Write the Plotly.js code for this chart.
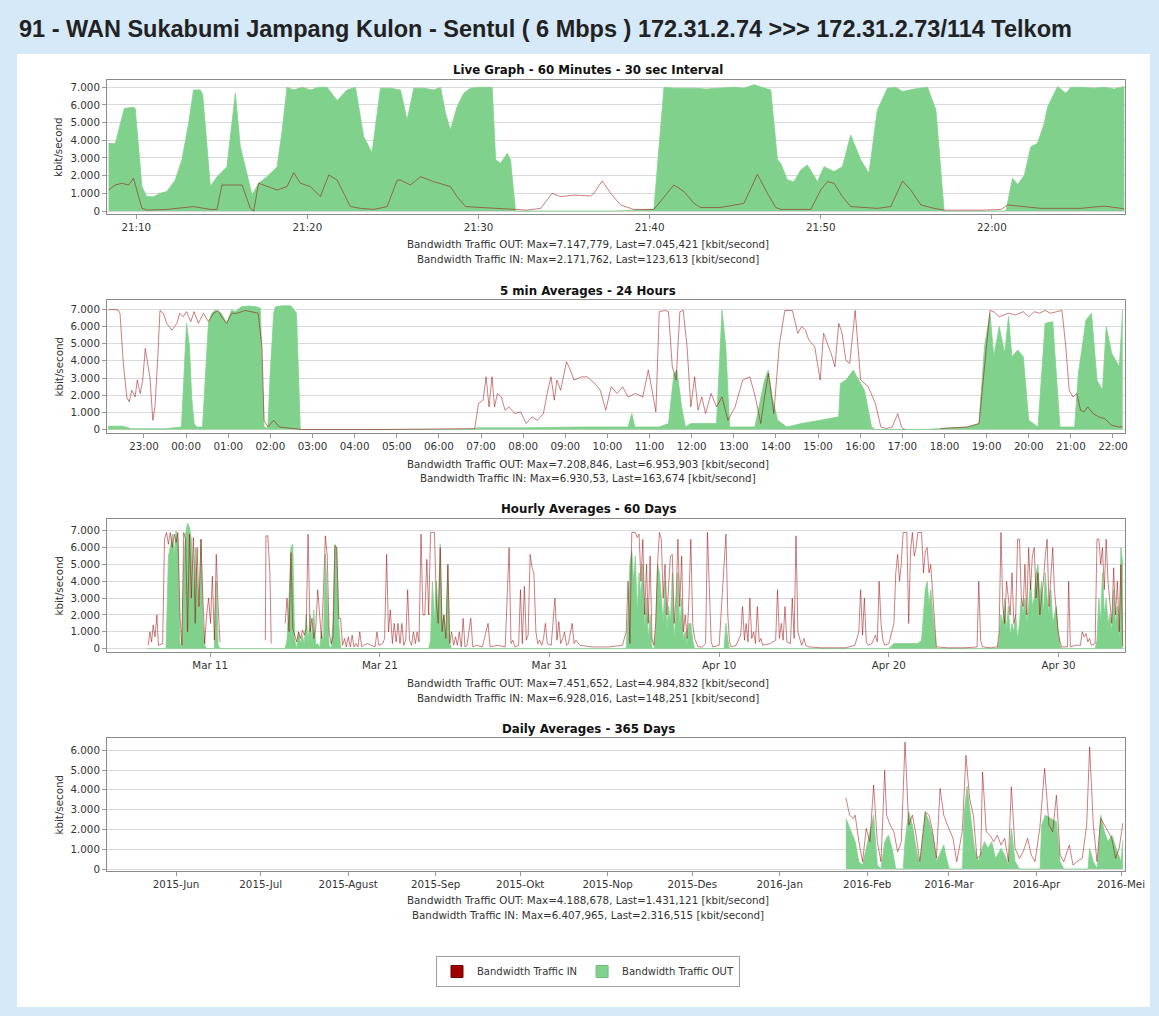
<!DOCTYPE html>
<html><head><meta charset="utf-8">
<script src="https://cdn.plot.ly/plotly-3.0.1.min.js"></script>
<style>html,body{margin:0;padding:0;background:#d5e9f9;}#chart{width:1159px;height:1016px;}</style>
</head><body><div id="chart"></div>
<script>
// ---------- Live Graph (minutes after 21:00) ----------
const liveTickVals = [10,20,30,40,50,60];
const liveTickText = ['21:10','21:20','21:30','21:40','21:50','22:00'];
const liveOutMin = [8.38,8.77,9.30,9.84,9.94,10.33,10.62,11.01,11.40,11.79,12.28,12.67,13.06,13.35,13.74,13.88,14.33,14.72,15.30,15.54,15.79,16.08,16.77,17.15,17.64,18.23,18.52,18.81,19.20,19.69,20.18,20.66,21.15,21.74,22.32,22.81,23.29,23.78,24.27,24.85,25.44,25.83,26.22,26.80,27.39,27.78,28.07,28.36,28.75,29.14,29.53,30.12,30.80,31.00,31.29,31.68,31.87,32.16,34.0,36.0,38.0,40.25,40.84,41.42,42.59,43.30,43.96,44.93,45.51,46.10,46.88,47.08,47.47,47.66,48.05,48.44,48.83,49.22,49.81,50.19,50.78,51.27,51.75,52.34,52.82,53.31,53.90,54.39,54.78,55.46,56.24,56.73,57.21,59.0,60.82,61.21,61.50,61.89,62.28,62.67,63.06,63.26,63.84,64.33,64.62,65.20,65.98,66.57,67.15,67.74];
const liveOut = [3830,3800,5800,5870,5800,1380,810,810,1000,1100,1750,2900,4960,6850,6850,6600,1380,1940,2500,4400,6660,3640,900,1570,1940,2500,4500,7000,6850,7000,6850,7000,7000,6250,6850,7000,4200,3300,6950,6950,6850,5150,6950,6950,6850,7000,5530,4580,5900,6660,6950,7000,7000,2900,2700,3260,2900,0,0,0,0,100,7000,6950,6950,6900,6950,7000,6950,7148,6900,6850,2900,2700,1750,1660,2320,2600,1660,2510,2230,2510,4300,2890,2140,5720,6950,7000,6760,6900,7000,5720,0,0,0,1850,1500,2000,3640,3830,4960,5900,7040,6660,7000,7000,6950,7000,6900,7045];
const liveInMin = [8.38,8.77,9.16,9.55,9.84,10.33,10.62,11.79,13.35,14.33,14.72,15.01,15.69,16.18,16.67,16.86,17.15,17.64,18.23,18.81,19.20,19.59,20.18,20.76,21.25,21.74,22.51,23.10,23.88,24.66,25.25,25.44,26.02,26.61,27.39,28.36,28.75,29.24,30.31,32.16,32.85,33.63,34.31,34.80,35.57,36.55,36.74,37.23,37.72,38.30,39.08,40.25,40.84,41.42,42.01,42.59,42.98,44.15,45.51,46.30,46.88,47.37,47.66,49.42,50.00,50.39,50.78,51.27,51.75,53.31,54.09,54.78,55.26,55.85,56.63,57.21,59.36,60.53,60.92,61.70,62.87,65.20,66.57,67.74];
const liveIn = [1190,1470,1570,1470,1850,150,50,90,250,90,90,1470,1470,1470,150,0,1570,1380,1190,1380,2170,1570,1380,810,2040,1750,250,150,90,250,1750,1750,1470,1940,1660,1380,810,250,200,90,50,150,1000,810,900,850,1000,1700,1000,340,90,90,810,1470,1100,430,200,200,430,2080,1000,200,90,90,1190,1660,1570,810,250,150,250,1700,1190,340,150,50,50,90,340,280,150,150,280,124];

// ---------- 5 min averages (hours after 22:00 of previous day) ----------
const dayTickVals = [1,2,3,4,5,6,7,8,9,10,11,12,13,14,15,16,17,18,19,20,21,22,23,24];
const dayTickText = ['23:00','00:00','01:00','02:00','03:00','04:00','05:00','06:00','07:00','08:00','09:00','10:00','11:00','12:00','13:00','14:00','15:00','16:00','17:00','18:00','19:00','20:00','21:00','22:00'];
const dayOutH = [0.15,0.50,0.70,1.50,1.89,1.95,2.01,2.08,2.13,2.19,2.25,2.39,2.45,2.53,2.61,2.69,2.84,2.96,3.08,3.17,3.31,3.49,3.67,3.76,3.85,3.94,3.99,4.08,4.12,4.30,4.49,4.62,4.71,6.5,8.8,8.9,10.0,11.4,12.49,12.58,12.65,13.23,13.45,13.58,13.65,13.76,13.85,13.98,14.59,14.72,14.81,14.90,15.50,15.73,15.82,15.91,16.04,16.26,16.61,17.05,17.49,17.53,17.66,17.84,17.92,18.10,18.27,18.36,19.5,20.55,20.82,20.95,21.08,21.17,21.30,21.43,21.52,21.60,21.74,21.87,22.00,22.22,22.39,22.57,22.66,22.74,23.09,23.18,23.36,23.49,23.62,23.75,23.84,23.97,24.15,24.23];
const dayOut = [200,200,50,50,150,2880,6180,4820,1900,350,150,150,2880,6180,6770,6950,6770,6180,6950,6860,7150,7190,7150,7060,150,60,3000,6770,7150,7208,7190,6770,0,0,0,100,100,150,150,930,150,150,350,3270,3460,1320,150,350,350,6950,4820,150,150,2880,3460,1900,540,150,350,540,740,2680,2880,3460,3070,2290,150,0,0,150,350,4820,6770,4240,5990,4430,6570,4240,4630,4240,540,150,6180,6280,2880,150,150,3270,6380,6770,2880,2290,5990,4430,3650,6954];
const dayInH = [0.15,0.23,0.39,0.43,0.51,0.59,0.65,0.71,0.79,0.84,0.91,0.97,1.03,1.08,1.14,1.21,1.26,1.32,1.38,1.46,1.54,1.66,1.78,1.85,1.93,2.01,2.11,2.19,2.29,2.41,2.53,2.65,2.76,2.84,2.96,3.08,3.21,3.40,3.58,3.71,3.80,3.85,3.94,4.08,4.21,4.49,4.76,6.50,8.85,8.94,9.05,9.12,9.19,9.26,9.32,9.39,9.48,9.57,9.66,9.80,9.94,10.07,10.21,10.34,10.48,10.57,10.66,10.74,10.80,10.89,11.03,11.12,11.21,11.39,11.52,11.70,11.83,11.96,12.09,12.23,12.36,12.49,12.66,12.84,12.97,13.06,13.15,13.23,13.37,13.45,13.54,13.63,13.72,13.80,13.89,13.98,14.07,14.15,14.24,14.33,14.46,14.59,14.72,14.86,15.03,15.21,15.38,15.51,15.64,15.73,15.82,15.95,16.08,16.21,16.39,16.52,16.61,16.70,16.78,16.92,17.05,17.13,17.31,17.40,17.49,17.57,17.66,17.75,17.88,18.01,18.19,18.36,18.49,18.62,18.76,18.89,18.98,19.06,19.50,19.90,20.55,20.82,20.95,21.08,21.17,21.30,21.52,21.69,21.87,22.00,22.13,22.26,22.39,22.52,22.66,22.79,22.88,22.96,23.05,23.14,23.23,23.31,23.40,23.53,23.66,23.80,23.97,24.15,24.23];
const dayIn = [6950,7000,6950,6770,3850,1900,1610,2290,1900,2880,2100,2880,4720,3850,3070,540,1320,3850,6930,6770,6180,5790,6180,6770,6570,6860,6280,6860,6180,6770,6280,6770,6930,6570,6180,6770,6770,6930,6860,6770,4820,540,150,540,150,60,0,0,60,1520,1710,3070,1320,3070,1320,2100,1900,1130,1320,930,1030,350,740,540,930,2100,3070,1710,2880,2290,3950,3460,2880,3070,3070,2680,2290,1130,2490,2100,2490,1900,2100,1900,3460,2290,1030,6860,6930,6860,3650,2880,6860,6930,4820,1320,3070,1130,1900,930,2100,1320,1900,540,1320,2880,3070,1900,350,1900,3270,930,4920,6930,6930,5600,5990,5790,5210,4820,2880,5600,4430,3650,6180,5600,4040,3850,6930,2880,2490,1520,150,60,150,930,150,0,null,60,150,350,3850,6930,6860,6570,6770,6670,6860,6570,6860,6770,6930,6770,6860,6930,4820,2290,1900,2100,1130,1030,1320,930,740,640,250,150,164];

// ---------- Hourly averages (days after 1 Mar 2016) ----------
const hourTickVals = [10,20,30,40,50,60];
const hourTickText = ['Mar 11','Mar 21','Mar 31','Apr 10','Apr 20','Apr 30'];
const hourInD = [6.35,6.45,6.55,6.64,6.75,6.86,6.95,7.20,7.31,7.43,7.54,7.65,7.77,7.88,7.99,8.10,8.22,8.33,8.44,8.55,8.67,8.78,8.89,9.01,9.12,9.23,9.34,9.46,9.57,9.68,9.79,9.91,10.02,10.13,10.25,10.36,10.47,10.58,11.50,13.25,13.29,13.40,13.52,13.60,14.00,14.42,14.53,14.65,14.76,14.87,14.98,15.10,15.21,15.33,15.44,15.55,15.66,15.77,15.89,16.00,16.11,16.22,16.34,16.45,16.56,16.68,16.79,16.90,17.01,17.13,17.24,17.35,17.46,17.58,17.69,17.80,17.92,18.03,18.14,18.26,18.37,18.48,18.59,18.71,18.82,18.93,19.04,19.27,19.50,19.72,19.83,19.94,20.17,20.28,20.40,20.51,20.62,20.74,20.85,20.96,21.07,21.19,21.30,21.41,21.53,21.64,21.75,21.87,21.98,22.10,22.20,22.31,22.43,22.54,22.65,22.77,22.88,22.99,23.10,23.22,23.33,23.44,23.56,23.67,23.78,23.89,24.01,24.12,24.23,24.35,24.46,24.57,24.68,24.80,24.91,25.02,25.14,25.36,25.48,25.70,26.04,26.38,26.50,26.94,27.39,27.62,27.73,27.84,27.96,28.18,28.29,28.40,28.52,28.63,28.74,28.86,28.97,29.08,29.20,29.31,29.42,29.54,29.65,29.76,29.87,30.10,30.32,30.44,30.55,30.66,30.78,30.89,31.00,31.11,31.34,31.45,31.56,31.80,32.50,33.50,34.30,34.52,34.63,34.74,34.85,34.96,35.06,35.17,35.28,35.39,35.50,35.61,35.72,35.82,35.93,36.04,36.15,36.26,36.37,36.48,36.59,36.70,36.81,36.92,37.02,37.13,37.24,37.35,37.46,37.57,37.68,37.79,37.89,38.00,38.11,38.22,38.33,38.44,38.55,38.66,38.76,39.00,39.20,39.31,39.42,39.53,39.63,40.00,40.40,40.51,40.61,40.72,41.00,41.27,41.38,41.49,41.59,41.70,41.81,41.92,42.03,42.14,42.25,42.36,42.46,42.57,43.00,43.33,43.44,43.55,43.66,43.77,43.88,43.99,44.20,44.31,44.42,44.53,44.64,44.75,44.86,45.00,45.10,45.29,46.00,47.00,47.47,48.00,48.23,48.34,48.45,48.56,48.67,48.78,49.00,49.21,49.32,49.43,49.54,49.65,49.76,50.00,50.30,50.41,50.52,50.63,50.73,50.84,50.95,51.06,51.17,51.28,51.39,51.50,51.61,51.71,51.82,51.93,52.04,52.15,52.26,52.37,52.47,52.58,52.69,52.80,53.50,54.50,55.20,55.30,55.41,55.52,56.00,56.40,56.50,56.61,56.72,56.83,56.94,57.04,57.15,57.26,57.37,57.48,57.59,57.70,57.81,57.92,58.02,58.13,58.24,58.35,58.46,58.57,58.68,58.79,58.90,59.00,59.11,59.22,59.33,59.44,59.55,59.66,59.76,59.87,59.98,60.09,60.20,60.53,60.60,60.70,61.00,61.29,61.40,61.51,61.62,61.73,61.83,61.94,62.16,62.27,62.38,62.49,62.59,62.70,62.81,62.92,63.03,63.14,63.25,63.36,63.47,63.58,63.68,63.79];
const hourIn = [200,1000,400,1400,700,2000,200,300,6500,6900,6200,6900,6000,6800,6300,6900,2000,200,6900,6500,1000,6800,3000,6600,1500,6000,2500,6500,3000,300,2000,3000,1500,4300,500,5600,2500,400,null,500,6700,6700,4500,300,null,1500,3000,1000,5700,1200,800,400,1000,600,1100,800,1200,6800,1000,1800,600,1200,3500,2000,600,3500,6700,5500,1000,300,700,6100,6000,1800,1800,200,600,100,700,100,800,100,300,100,1000,100,200,300,200,100,1000,200,300,600,5600,1000,2300,300,1500,400,1500,300,1500,200,500,3500,500,200,1000,300,1000,400,6800,2000,2000,5300,2000,6900,6900,6900,2800,1500,6000,1000,2000,600,5000,300,1000,200,700,200,1000,100,1800,100,200,1800,100,200,100,1500,100,200,100,6000,300,500,100,200,3500,300,3700,500,800,5600,4800,4500,1000,300,500,200,600,1500,300,200,3000,500,1600,300,600,1000,200,300,1500,300,500,200,100,100,200,1000,4000,300,6900,6900,6900,6600,6800,4000,6500,2000,5000,1500,5500,600,200,1500,5000,6900,6500,3000,5000,2000,4000,5500,5600,1500,3000,6500,2500,5500,1000,2000,600,3000,6500,1500,600,300,100,100,300,6900,3000,400,100,200,6800,2000,400,100,200,800,2500,500,1500,400,3000,600,1000,300,2500,400,600,200,300,500,3500,600,1500,500,2500,400,300,3000,600,6700,1000,500,200,600,200,100,50,50,50,200,1000,3500,800,3000,400,200,300,800,400,4000,1500,500,200,300,1500,4500,5600,4000,5000,6900,6900,6900,1500,5800,6900,5500,6000,6900,6900,6900,4500,5800,6000,4500,5000,3500,1500,100,50,50,100,4000,500,100,50,100,1000,6900,2500,1500,4000,3000,2000,4500,1500,2000,6500,6500,3000,2500,5000,2000,6000,3500,5500,6000,3000,4500,2000,3000,4000,5500,6500,2500,4500,6000,3500,2000,1000,400,100,100,4000,100,200,200,1000,700,900,400,600,200,300,6500,6500,5000,6000,3500,6500,4000,2500,1500,4800,2000,4000,1000,5000,148];
const hourOutD = [6.30,7.40,7.43,7.54,7.65,7.77,7.88,7.99,8.10,8.22,8.33,8.44,8.55,8.67,8.78,8.89,9.01,9.12,9.23,9.34,9.46,9.57,9.68,9.79,10.25,10.36,10.47,10.58,14.42,14.53,14.65,14.76,14.87,14.98,15.10,15.21,15.33,15.44,15.55,15.66,15.77,15.89,16.00,16.11,16.22,16.34,16.45,16.56,16.68,16.79,16.90,17.01,17.13,17.24,17.35,17.46,17.58,17.69,22.88,22.99,23.10,23.22,23.33,23.44,23.56,23.67,23.78,23.89,24.01,24.12,24.23,34.52,34.63,34.74,34.85,34.96,35.06,35.17,35.28,35.39,35.50,35.61,35.72,35.82,35.93,36.04,36.15,36.26,36.37,36.48,36.59,36.70,36.81,36.92,37.02,37.13,37.24,37.35,37.46,37.57,37.68,37.79,37.89,38.00,38.11,38.22,38.33,38.44,38.55,40.29,40.40,40.51,40.61,50.00,50.19,50.30,50.84,51.28,51.71,51.93,52.04,52.15,52.26,52.37,52.47,52.58,52.69,52.80,56.40,56.50,56.61,56.72,56.83,56.94,57.04,57.15,57.26,57.37,57.48,57.59,57.70,57.81,57.92,58.02,58.13,58.24,58.35,58.46,58.57,58.68,58.79,58.90,59.00,59.11,59.22,59.33,59.44,59.55,59.66,59.76,59.87,59.98,60.09,60.20,62.16,62.27,62.38,62.49,62.59,62.70,62.81,62.92,63.03,63.14,63.25,63.36,63.47,63.58,63.68,63.79];
const hourOut = [0,0,1000,5500,6000,6800,5500,7000,6500,300,0,5000,6800,7451,7200,6500,3000,6000,4000,2000,6500,1500,200,0,0,4000,200,0,0,500,3000,6000,6200,500,0,1000,300,800,200,2000,300,2000,300,2300,200,300,0,1000,300,5600,3000,200,0,1500,6200,6000,1500,0,0,500,4000,1500,4000,2000,6200,1500,2000,500,5000,300,0,0,2000,5000,5800,4000,5500,2000,4500,3000,5000,1000,3000,500,2000,0,0,1000,5000,4500,3000,1500,4000,1000,2500,1500,4500,500,2000,4500,1000,3000,500,1000,200,1500,1500,500,0,0,1500,500,0,0,200,300,300,300,300,500,2000,3500,4000,2500,3500,2000,1000,0,0,500,2000,1500,3000,1000,2500,800,1500,1000,2000,500,1500,3000,2000,3000,1500,2500,4000,2500,3000,4500,5000,3000,4000,2000,4500,3000,2000,3500,1500,2000,2500,1000,200,0,0,500,3000,1500,4500,2000,3000,1500,2000,1000,3500,1500,2500,500,6000,4985];

// ---------- Daily averages (days after 1 Jun 2015) ----------
const yearTickVals = [0,30,61,92,122,153,183,214,245,274,305,335];
const yearTickText = ['2015-Jun','2015-Jul','2015-Agust','2015-Sep','2015-Okt','2015-Nop','2015-Des','2016-Jan','2016-Feb','2016-Mar','2016-Apr','2016-Mei'];
const yearInD = [237.46,238.77,240.08,240.74,242.05,243.36,244.66,245.97,247.28,248.59,249.90,251.21,251.86,253.17,254.48,255.79,257.10,258.41,259.72,261.03,262.34,263.65,265.61,266.92,268.23,269.54,270.85,272.15,273.46,275.43,276.74,278.70,280.01,281.32,282.63,283.93,285.24,285.90,287.21,288.52,289.83,291.14,292.45,293.75,295.06,296.11,297.42,298.99,300.30,301.87,303.18,304.49,306.19,307.90,309.46,310.77,312.08,313.39,314.70,316.66,317.97,319.28,321.24,322.81,323.86,325.17,326.48,327.79,329.10,330.41,331.72,333.02,334.33,335.64];
const yearIn = [3600,2720,2550,2720,1380,370,2050,1380,4240,1380,370,4990,2720,2220,1880,870,1380,6408,2220,2720,1710,370,2890,2720,1880,540,4070,2720,2220,1550,370,1880,5750,3560,2720,540,710,4910,1880,1710,1380,1710,1210,1550,370,4150,1040,540,870,1550,710,370,2050,5080,2220,1880,3730,710,370,1210,200,370,540,2220,6170,2220,370,2550,2220,1880,1550,540,1040,2317];
const yearOutD = [237.46,239.43,240.74,242.05,243.36,244.66,245.97,247.28,247.94,248.59,249.90,251.21,252.52,253.83,255.14,257.80,258.41,259.72,261.03,262.34,263.65,265.61,266.92,268.23,269.54,272.15,272.81,274.12,278.80,279.36,280.40,281.71,283.02,284.33,286.55,287.86,289.17,290.48,292.45,293.75,295.06,296.11,297.42,298.99,306.30,306.85,308.16,310.12,312.08,313.39,314.70,323.30,323.86,325.17,326.60,327.79,329.10,330.41,331.72,333.68,334.99,335.64];
const yearOut = [2550,1880,1380,370,200,1040,1880,2720,1380,200,0,1380,1710,1040,0,0,1380,2890,2220,1040,200,2890,2390,1710,370,1210,710,0,0,2720,4188,2720,1040,370,1380,1040,1380,540,1040,710,200,2050,370,0,0,2220,2720,2550,2390,370,0,0,1040,370,0,2720,1880,1380,1710,870,370,1431];

// ---------- texts ----------
const pageTitle = '91 - WAN Sukabumi Jampang Kulon - Sentul ( 6 Mbps ) 172.31.2.74 &gt;&gt;&gt; 172.31.2.73/114 Telkom';
const chartTitles = ['Live Graph - 60 Minutes - 30 sec Interval','5 min Averages - 24 Hours','Hourly Averages - 60 Days','Daily Averages - 365 Days'];
const footOut = ['Bandwidth Traffic OUT: Max=7.147,779, Last=7.045,421 [kbit/second]','Bandwidth Traffic OUT: Max=7.208,846, Last=6.953,903 [kbit/second]','Bandwidth Traffic OUT: Max=7.451,652, Last=4.984,832 [kbit/second]','Bandwidth Traffic OUT: Max=4.188,678, Last=1.431,121 [kbit/second]'];
const footIn = ['Bandwidth Traffic IN: Max=2.171,762, Last=123,613 [kbit/second]','Bandwidth Traffic IN: Max=6.930,53, Last=163,674 [kbit/second]','Bandwidth Traffic IN: Max=6.928,016, Last=148,251 [kbit/second]','Bandwidth Traffic IN: Max=6.407,965, Last=2.316,515 [kbit/second]'];
const seriesNames = ['Bandwidth Traffic IN','Bandwidth Traffic OUT'];

// ---------- layout geometry ----------
const W=1159, H=1016;
const px = v => v/W, py = v => 1 - v/H;
const FONT = 'DejaVu Sans, Verdana, sans-serif';
const GREEN = '#80d18c', INLINE = 'rgba(155,0,0,0.5)';
const plotTop = [80,300,519,738], plotBot = [214,433,652,871];
const xRanges = [[8.29,67.78],[0.122,24.285],[3.92,63.92],[-24.5,336.4]];
const yRanges = [[-170,7413],[-200,7540],[-200,7700],[-100,6620]];
const tickV = [liveTickVals, dayTickVals, hourTickVals, yearTickVals];
const tickT = [liveTickText, dayTickText, hourTickText, yearTickText];
const titleY = [70.5,290.5,509,728.5], foot1Y = [244,464,683,900];

const series = [
  [liveOutMin, liveOut, liveInMin, liveIn],
  [dayOutH, dayOut, dayInH, dayIn],
  [hourOutD, hourOut, hourInD, hourIn],
  [yearOutD, yearOut, yearInD, yearIn]
];

const data = [];
const layout = {
  width:W, height:H, margin:{l:0,r:0,t:0,b:0},
  paper_bgcolor:'#d5e9f9', plot_bgcolor:'#ffffff',
  separators:',.', hovermode:false,
  font:{family:FONT, size:10.3, color:'#333'},
  showlegend:true,
  legend:{orientation:'h', x:px(588), xanchor:'center', y:py(971.5), yanchor:'middle',
          bordercolor:'#a0a0a0', borderwidth:1, bgcolor:'#ffffff', itemwidth:30,
          font:{family:FONT, size:10, color:'#333'}, traceorder:'normal'},
  shapes:[{type:'rect', xref:'paper', yref:'paper', x0:px(17), x1:px(1150), y0:py(1007), y1:py(54),
           fillcolor:'#ffffff', line:{width:0}, layer:'below'}],
  annotations:[{xref:'paper', yref:'paper', x:px(17), y:py(29.5), xanchor:'left', yanchor:'middle', showarrow:false,
                text:'<b>'+pageTitle+'</b>', font:{family:'Liberation Sans, Arial, sans-serif', size:23.5, color:'#222'}}]
};

for (let i=0;i<4;i++){
  const sfx = i===0 ? '' : String(i+1);
  const xa = 'x'+sfx, ya = 'y'+sfx;
  const [oT,oV,iT,iV] = series[i];
  data.push({type:'scatter', mode:'lines', x:oT, y:oV, xaxis:xa, yaxis:ya, fill:'tozeroy',
             fillcolor:GREEN, line:{color:GREEN, width:0.8}, showlegend:false, connectgaps:false});
  data.push({type:'scatter', mode:'lines', x:iT, y:iV, xaxis:xa, yaxis:ya,
             line:{color:INLINE, width:1}, showlegend:false, connectgaps:false});
  layout['xaxis'+sfx] = {domain:[px(107),px(1125)], range:xRanges[i], anchor:ya,
    tickmode:'array', tickvals:tickV[i], ticktext:tickT[i], ticks:'outside', ticklen:4, tickcolor:'#999',
    showgrid:false, zeroline:false, showline:true, linecolor:'#8a8a8a', linewidth:1, mirror:true,
    tickfont:{family:FONT, size:10.3, color:'#333'}, fixedrange:true};
  layout['yaxis'+sfx] = {domain:[py(plotBot[i]),py(plotTop[i])], range:yRanges[i], anchor:xa,
    tick0:0, dtick:1000, tickformat:',d', ticks:'outside', ticklen:4, tickcolor:'#999',
    showgrid:true, gridcolor:'#d9d9d9', gridwidth:1, zeroline:false, showline:true,
    linecolor:'#8a8a8a', linewidth:1, mirror:true,
    tickfont:{family:FONT, size:10.3, color:'#333'}, fixedrange:true};
  layout.annotations.push({xref:'paper', yref:'paper', x:px(588), y:py(titleY[i]), xanchor:'center', yanchor:'middle',
    showarrow:false, text:'<b>'+chartTitles[i]+'</b>', font:{family:FONT, size:11.8, color:'#111'}});
  layout.annotations.push({xref:'paper', yref:'paper', x:px(588), y:py(foot1Y[i]), xanchor:'center', yanchor:'middle',
    showarrow:false, text:footOut[i], font:{family:FONT, size:10.3, color:'#333'}});
  layout.annotations.push({xref:'paper', yref:'paper', x:px(588), y:py(foot1Y[i]+14.5), xanchor:'center', yanchor:'middle',
    showarrow:false, text:footIn[i], font:{family:FONT, size:10.3, color:'#333'}});
  layout.annotations.push({xref:'paper', yref:'paper', x:px(58), y:py((plotTop[i]+plotBot[i])/2), xanchor:'center', yanchor:'middle',
    showarrow:false, textangle:-90, text:'kbit/second', font:{family:FONT, size:10.3, color:'#333'}});
}

// legend entries
data.push({type:'bar', x:[null], y:[null], name:seriesNames[0], xaxis:'x', yaxis:'y',
           marker:{color:'#a00000', line:{color:'#700000', width:1}}, showlegend:true});
data.push({type:'bar', x:[null], y:[null], name:seriesNames[1], xaxis:'x', yaxis:'y',
           marker:{color:GREEN, line:{color:'#6cbf78', width:1}}, showlegend:true});

Plotly.newPlot('chart', data, layout, {staticPlot:true, displayModeBar:false});
</script></body></html>
